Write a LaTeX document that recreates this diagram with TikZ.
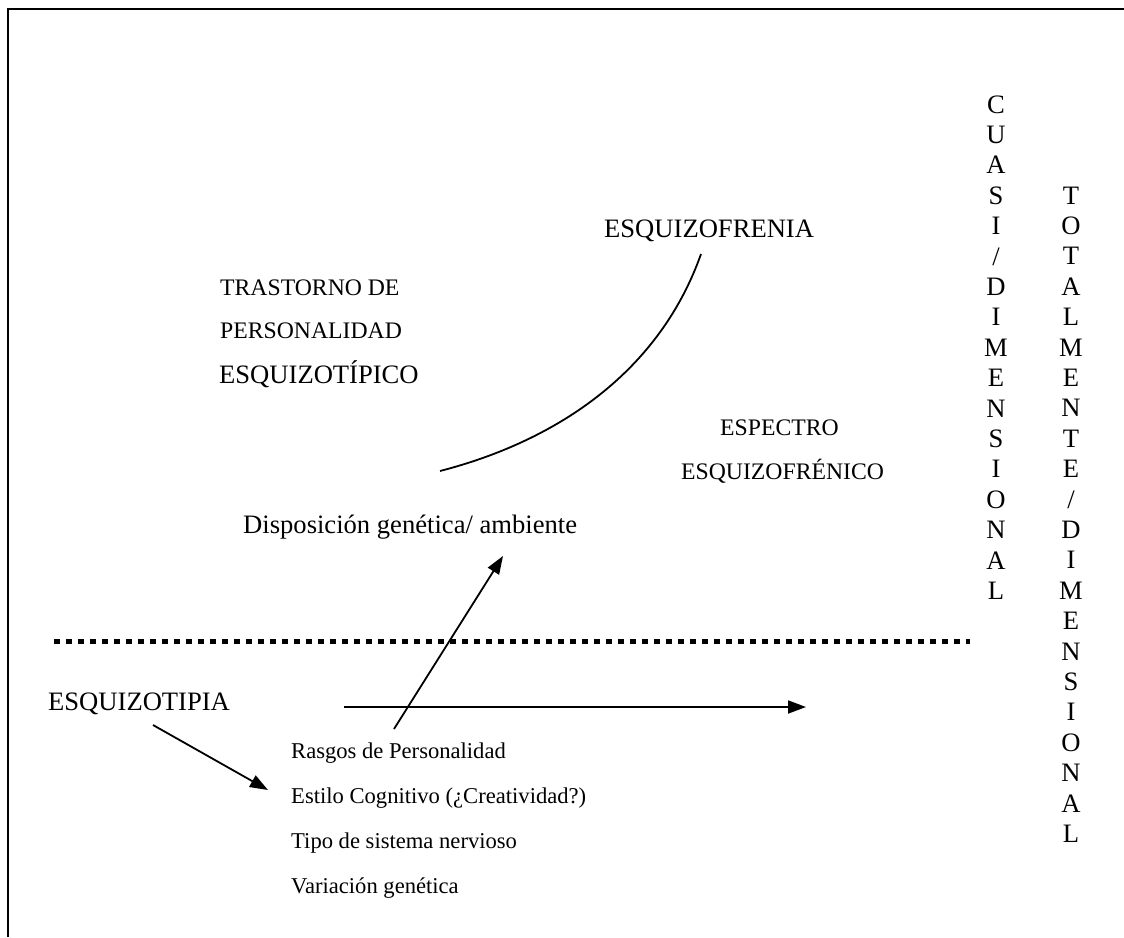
\documentclass[tikz,border=0pt]{standalone}
\usepackage{fontspec}
\setmainfont{Liberation Serif}
\usetikzlibrary{arrows.meta}
\begin{document}
\begin{tikzpicture}[x=1pt,y=-1pt,
  big/.style={font=\fontsize{26.6}{30}\selectfont,inner sep=0pt},
  mid/.style={font=\fontsize{23.7}{28}\selectfont,inner sep=0pt},
  small/.style={font=\fontsize{22.6}{27}\selectfont,inner sep=0pt},
  letter/.style={font=\fontsize{26.6}{30}\selectfont,inner sep=0pt,anchor=base},
  link/.style={line width=1.8pt},
  arrow/.style={line width=1.8pt,-{Triangle[length=18pt,width=13pt]}},
  divider/.style={line width=5pt,dash pattern=on 6pt off 6pt}]
\useasboundingbox (0,0) rectangle (1124,937);
% frame
\draw[line width=2pt] (8,937) -- (8,9) -- (1124,9);

% upper labels
\node[big,anchor=base west] (esq) at (604,237) {ESQUIZOFRENIA};
\node[mid,anchor=base west] (tp1) at (220,295) {TRASTORNO DE};
\node[mid,anchor=base west] (tp2) at (220,338) {PERSONALIDAD};
\node[big,anchor=base west] (tp3) at (219,383) {ESQUIZOTÍPICO};
\node[mid,anchor=base west] (sp1) at (720,435) {ESPECTRO};
\node[mid,anchor=base west] (sp2) at (681,479) {ESQUIZOFRÉNICO};
\node[big,anchor=base west] (disp) at (243,533) {Disposición genética/ ambiente};

% continuum curve
\coordinate (c0) at (440,471);
\coordinate (c1) at (701,254);
\draw[link] (c0) .. controls (560,440) and (660,370) .. (c1);

% divider
\coordinate (d0) at (54,641);
\coordinate (d1) at (970,641);
\draw[divider] (d0) -- (d1);

% lower labels
\node[big,anchor=base west] (ezt) at (48,710) {ESQUIZOTIPIA};
\node[small,anchor=base west] (l1) at (291,758) {Rasgos de Personalidad};
\node[small,anchor=base west] (l2) at (291,803) {Estilo Cognitivo (¿Creatividad?)};
\node[small,anchor=base west] (l3) at (291,848) {Tipo de sistema nervioso};
\node[small,anchor=base west] (l4) at (291,893) {Variación genética};

% arrows
\coordinate (a0) at (394,729);
\coordinate (a1) at (503,556);
\draw[arrow] (a0) -- (a1);
\coordinate (h0) at (344,707);
\coordinate (h1) at (806,707);
\draw[arrow] (h0) -- (h1);
\coordinate (e0) at (153,725);
\coordinate (e1) at (268,790);
\draw[arrow] (e0) -- (e1);

% vertical labels
\foreach \ch [count=\i from 0] in {C,U,A,S,I,/,D,I,M,E,N,S,I,O,N,A,L}
  \node[letter] (qa\i) at (996,113+30.4*\i) {\ch};
\foreach \ch [count=\i from 0] in {T,O,T,A,L,M,E,N,T,E,/,D,I,M,E,N,S,I,O,N,A,L}
  \node[letter] (tb\i) at (1071,204+30.4*\i) {\ch};
\end{tikzpicture}
\end{document}
